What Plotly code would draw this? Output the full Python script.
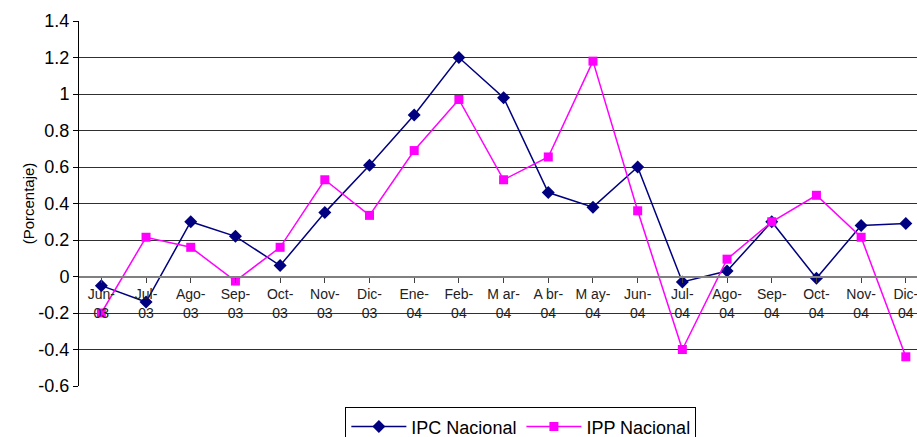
import plotly.graph_objects as go

meses = ['Jun-<br>03', 'Jul-<br>03', 'Ago-<br>03', 'Sep-<br>03', 'Oct-<br>03', 'Nov-<br>03',
         'Dic-<br>03', 'Ene-<br>04', 'Feb-<br>04', 'M ar-<br>04', 'A br-<br>04', 'M ay-<br>04',
         'Jun-<br>04', 'Jul-<br>04', 'Ago-<br>04', 'Sep-<br>04', 'Oct-<br>04', 'Nov-<br>04', 'Dic-<br>04']
ipc = [-0.05, -0.14, 0.30, 0.22, 0.06, 0.35, 0.61, 0.885, 1.20, 0.98, 0.46, 0.38,
       0.60, -0.03, 0.03, 0.30, -0.01, 0.28, 0.29]
ipp = [-0.20, 0.215, 0.16, -0.025, 0.16, 0.53, 0.335, 0.69, 0.97, 0.53, 0.655, 1.18,
       0.36, -0.40, 0.095, 0.30, 0.445, 0.215, -0.44]
y_ticks = [-0.6, -0.4, -0.2, 0, 0.2, 0.4, 0.6, 0.8, 1, 1.2, 1.4]
y_labels = ['-0.6', '-0.4', '-0.2', '0', '0.2', '0.4', '0.6', '0.8', '1', '1.2', '1.4']

x = list(range(len(meses)))
fuente = 'Liberation Sans, Arial'

fig = go.Figure()
fig.add_trace(go.Scatter(x=x, y=ipc, name='IPC Nacional', mode='lines+markers',
                         line=dict(color='#000080', width=1.5),
                         marker=dict(symbol='diamond', size=10, color='#000080')))
fig.add_trace(go.Scatter(x=x, y=ipp, name='IPP Nacional', mode='lines+markers',
                         line=dict(color='#FF00FF', width=1.5),
                         marker=dict(symbol='square', size=9, color='#FF00FF')))

fig.update_xaxes(range=[-0.5, 18.25], tickmode='array', tickvals=x, ticktext=meses,
                 anchor='free', position=0.3, showline=True, linecolor='#808080', linewidth=2,
                 ticks='outside', tickson='boundaries', ticklen=5, tickcolor='#404040',
                 showgrid=False, zeroline=False, automargin=False, ticklabeloverflow='allow',
                 tickfont=dict(family=fuente, size=14, color='#222'))
fig.update_yaxes(range=[-0.6, 1.4], tickmode='array', tickvals=y_ticks, ticktext=y_labels,
                 showgrid=True, gridcolor='#303030', gridwidth=1, zeroline=False,
                 showline=True, linecolor='black', linewidth=1, automargin=False,
                 ticks='outside', ticklen=5, tickcolor='black',
                 tickfont=dict(family=fuente, size=18, color='black'),
                 title=dict(text='(Porcentaje)', standoff=0,
                            font=dict(family=fuente, size=15, color='black')))
fig.update_layout(width=917, height=437, margin=dict(l=79, r=0, t=21, b=51),
                  plot_bgcolor='white', paper_bgcolor='white', showlegend=True,
                  legend=dict(orientation='h', xref='container', yref='container',
                              x=0.568, xanchor='center', y=0.068, yanchor='top',
                              itemwidth=55,
                              bordercolor='black', borderwidth=1, bgcolor='white',
                              font=dict(family=fuente, size=18, color='black')))
# quitar el margen por defecto del body para que el grafico quede en (0, 0)
fig.write_html("out.html", config={'displayModeBar': False},
               post_script="document.body.style.margin='0';")
